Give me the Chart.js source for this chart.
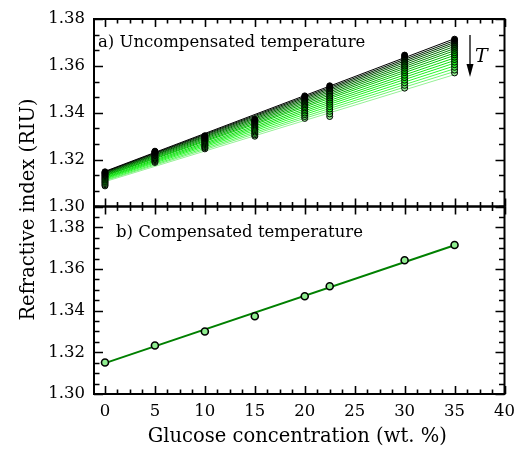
<!DOCTYPE html>
<html><head><meta charset="utf-8">
<script src="https://cdn.jsdelivr.net/npm/chart.js@4.4.0/dist/chart.umd.min.js"></script>
<style>html,body{margin:0;padding:0;background:#fff;} #wrap{width:523px;height:454px;position:relative;}</style>
</head><body><div id="wrap"><canvas id="c" width="523" height="454"></canvas></div>
<script>
// ---------- data ----------
const concentrations = [0, 5, 10, 15, 20, 22.5, 30, 35];
const xTickValues = [0, 5, 10, 15, 20, 25, 30, 35, 40];
const yTickValues = [1.30, 1.32, 1.34, 1.36, 1.38];
const fitX = [0, 35];

// uncompensated: one array per temperature, coldest (top) to hottest (bottom)
const temp01 = [1.3148, 1.3236, 1.3302, 1.3372, 1.3472, 1.3515, 1.3646, 1.3714];
const temp02 = [1.3145, 1.3234, 1.3299, 1.3368, 1.3467, 1.3508, 1.3639, 1.3707];
const temp03 = [1.3142, 1.3231, 1.3296, 1.3365, 1.3462, 1.3502, 1.3632, 1.3699];
const temp04 = [1.3139, 1.3229, 1.3293, 1.3361, 1.3457, 1.3494, 1.3624, 1.3691];
const temp05 = [1.3135, 1.3226, 1.3290, 1.3357, 1.3452, 1.3487, 1.3616, 1.3683];
const temp06 = [1.3132, 1.3223, 1.3287, 1.3352, 1.3446, 1.3479, 1.3607, 1.3675];
const temp07 = [1.3128, 1.3220, 1.3283, 1.3348, 1.3440, 1.3471, 1.3599, 1.3666];
const temp08 = [1.3124, 1.3217, 1.3280, 1.3343, 1.3434, 1.3463, 1.3590, 1.3656];
const temp09 = [1.3120, 1.3214, 1.3276, 1.3338, 1.3427, 1.3454, 1.3580, 1.3647];
const temp10 = [1.3116, 1.3210, 1.3272, 1.3333, 1.3421, 1.3445, 1.3571, 1.3637];
const temp11 = [1.3112, 1.3207, 1.3268, 1.3328, 1.3414, 1.3436, 1.3560, 1.3627];
const temp12 = [1.3107, 1.3203, 1.3264, 1.3323, 1.3407, 1.3426, 1.3550, 1.3616];
const temp13 = [1.3103, 1.3200, 1.3260, 1.3318, 1.3399, 1.3416, 1.3539, 1.3605];
const temp14 = [1.3098, 1.3196, 1.3255, 1.3312, 1.3392, 1.3406, 1.3528, 1.3594];
const temp15 = [1.3093, 1.3192, 1.3251, 1.3306, 1.3384, 1.3395, 1.3517, 1.3582];
const temp16 = [1.3088, 1.3188, 1.3246, 1.3300, 1.3376, 1.3384, 1.3505, 1.3570];
const uncompensated = [temp01, temp02, temp03, temp04, temp05, temp06, temp07, temp08,
                       temp09, temp10, temp11, temp12, temp13, temp14, temp15, temp16];
// linear-fit end points (at 0 and 35 wt.%) for each temperature
const fitStartTop = [1.3150, 1.3148, 1.3146, 1.3143, 1.3141, 1.3138, 1.3135, 1.3132,
                     1.3130, 1.3126, 1.3123, 1.3120, 1.3117, 1.3113, 1.3110, 1.3106];
const fitEndTop   = [1.3716, 1.3708, 1.3700, 1.3692, 1.3683, 1.3674, 1.3665, 1.3655,
                     1.3645, 1.3634, 1.3623, 1.3612, 1.3600, 1.3588, 1.3576, 1.3563];

// compensated
const compensated = [1.3151, 1.3233, 1.3300, 1.3373, 1.3469, 1.3517, 1.3642, 1.3715];
const compensatedFit = [1.3148, 1.3714];

// ---------- styling helpers ----------
const FONT = "'DejaVu Serif', serif";
function seriesColor(i, n) {
  const t = i / (n - 1);
  const stops = [[0, [0, 0, 0]], [0.22, [0, 100, 0]], [0.55, [0, 210, 0]], [0.8, [40, 250, 40]], [1, [150, 240, 150]]];
  for (let k = 0; k < stops.length - 1; k++) {
    const [t0, c0] = stops[k], [t1, c1] = stops[k + 1];
    if (t <= t1) {
      const u = (t - t0) / (t1 - t0);
      const c = c0.map((v, j) => Math.round(v + (c1[j] - v) * u));
      return `rgb(${c[0]},${c[1]},${c[2]})`;
    }
  }
  return 'rgb(150,240,150)';
}

const datasets = [];
const n = uncompensated.length;
uncompensated.forEach((row, i) => {
  datasets.push({
    data: fitX.map((x, j) => ({ x, y: j === 0 ? fitStartTop[i] : fitEndTop[i] })),
    yAxisID: 'yTop', showLine: true, pointRadius: 0, borderColor: seriesColor(i, n),
    borderWidth: 1, order: 10
  });
});
uncompensated.forEach((row, i) => {
  datasets.push({
    data: concentrations.map((x, j) => ({ x, y: row[j] })),
    yAxisID: 'yTop', showLine: false, pointRadius: 3, pointHoverRadius: 3,
    pointBackgroundColor: seriesColor(i, n), pointBorderColor: '#000', pointBorderWidth: 1, order: 1
  });
});
datasets.push({
  data: fitX.map((x, j) => ({ x, y: compensatedFit[j] })),
  yAxisID: 'yBot', showLine: true, pointRadius: 0, borderColor: '#008000', borderWidth: 2, order: 10
});
datasets.push({
  data: concentrations.map((x, j) => ({ x, y: compensated[j] })),
  yAxisID: 'yBot', showLine: false, pointRadius: 3.5, pointHoverRadius: 3.5,
  pointBackgroundColor: '#90EE90', pointBorderColor: '#000', pointBorderWidth: 1.6, order: 1
});

function fixedTicks(values) {
  return (scale) => { scale.ticks = values.map(v => ({ value: v })); };
}
const tickFont = { family: FONT, size: 16.5 };
const yAxisCommon = {
  type: 'linear', position: 'left', stack: 'panels', stackWeight: 1, offset: false,
  grid: { display: false, drawTicks: false }, border: { display: false },
  ticks: { font: tickFont, color: '#000', padding: 9, callback: v => v.toFixed(2) },
  afterBuildTicks: fixedTicks(yTickValues),
  afterFit: s => { s.width = 94; }
};

const decor = {
  id: 'decor',
  afterDraw(chart) {
    const { ctx, chartArea: a, scales } = chart;
    const x = scales.x, yT = scales.yTop, yB = scales.yBot;
    ctx.save();
    ctx.strokeStyle = '#000';
    ctx.lineCap = 'butt';
    const MAJ = 8, MIN = 4.5;
    const panels = [[yT, 0.02 / 3], [yB, 0.005]];
    ctx.lineWidth = 1.6;
    for (const [ys, minorStep] of panels) {
      const top = ys.top, bot = ys.bottom;
      ctx.beginPath();
      for (let k = 0; k * 1.25 <= 40 + 1e-9; k++) {
        const v = k * 1.25, px = Math.round(x.getPixelForValue(v)) + 0.5;
        const len = (k % 4 === 0) ? MAJ : MIN;
        ctx.moveTo(px, bot); ctx.lineTo(px, bot - len);
        ctx.moveTo(px, top); ctx.lineTo(px, top + len);
      }
      for (let k = 0; ; k++) {
        const v = 1.30 + k * minorStep;
        const py = ys.getPixelForValue(v);
        if (py < top - 0.5) break;
        const isMaj = Math.abs((v - 1.30) / 0.02 - Math.round((v - 1.30) / 0.02)) < 1e-6;
        const len = isMaj ? MAJ + 1 : MIN + 1;
        const p = Math.round(py) + 0.5;
        ctx.moveTo(a.left, p); ctx.lineTo(a.left + len, p);
        ctx.moveTo(a.right, p); ctx.lineTo(a.right - len, p);
      }
      ctx.stroke();
      ctx.lineWidth = 2;
      ctx.strokeRect(a.left, top, a.right - a.left, bot - top);
      ctx.lineWidth = 1.6;
    }
    ctx.fillStyle = '#000';
    ctx.textBaseline = 'alphabetic';
    ctx.textAlign = 'left';
    ctx.font = `16.5px ${FONT}`;
    ctx.fillText('a) Uncompensated temperature', a.left + 4, yT.top + 28);
    ctx.fillText('b) Compensated temperature', a.left + 22, yB.top + 30);
    const ax = a.right - 34.5, ay0 = yT.top + 16, ay1 = yT.top + 58;
    ctx.lineWidth = 1.3;
    ctx.beginPath(); ctx.moveTo(ax, ay0); ctx.lineTo(ax, ay1 - 10); ctx.stroke();
    ctx.beginPath(); ctx.moveTo(ax - 3.5, ay1 - 13); ctx.lineTo(ax + 3.5, ay1 - 13); ctx.lineTo(ax, ay1); ctx.closePath(); ctx.fill();
    ctx.font = `italic 19px ${FONT}`;
    ctx.fillText('T', ax + 5, yT.top + 43);
    ctx.font = `19.5px ${FONT}`;
    ctx.textAlign = 'center';
    ctx.textBaseline = 'middle';
    ctx.fillText('Glucose concentration (wt. %)', (a.left + a.right) / 2 - 2, 437);
    ctx.save();
    ctx.translate(29, (yT.top + yB.bottom) / 2 + 3);
    ctx.rotate(-Math.PI / 2);
    ctx.fillText('Refractive index (RIU)', 0, 0);
    ctx.restore();
    ctx.restore();
  }
};

new Chart(document.getElementById('c'), {
  type: 'scatter',
  data: { datasets },
  options: {
    responsive: false, animation: false,
    layout: { padding: { left: 0, top: 19, right: 13, bottom: 0 } },
    plugins: { legend: { display: false }, tooltip: { enabled: false } },
    scales: {
      x: {
        type: 'linear', position: 'bottom', min: -1.1, max: 40,
        grid: { display: false, drawTicks: false }, border: { display: false },
        ticks: { font: tickFont, color: '#000', padding: 8 },
        afterBuildTicks: fixedTicks(xTickValues),
        afterFit: s => { s.height = 60; }
      },
      yBot: Object.assign({}, yAxisCommon, { min: 1.30, max: 1.39 }),
      yTop: Object.assign({}, yAxisCommon, { min: 1.30, max: 1.38 })
    }
  },
  plugins: [decor]
});
</script></body></html>
